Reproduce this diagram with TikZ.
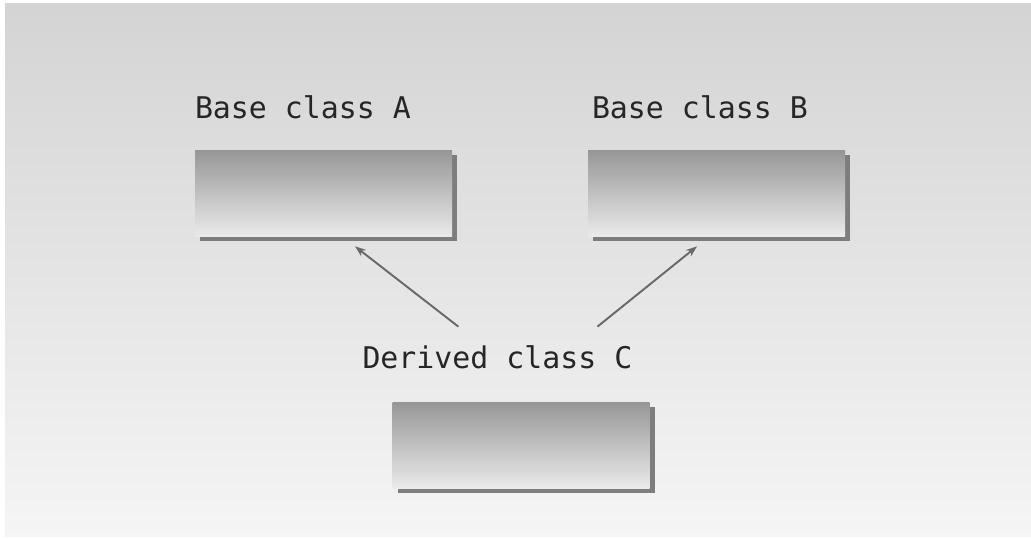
\documentclass[tikz,border=0pt]{standalone}
\usepackage{fontspec}
\setmonofont{DejaVu Sans Mono}
\usetikzlibrary{arrows.meta,positioning,shadows}
\definecolor{boxtop}{RGB}{150,150,150}
\definecolor{boxbottom}{RGB}{234,234,234}
\definecolor{edgegray}{RGB}{125,125,125}
\definecolor{linegray}{RGB}{105,105,105}

\tikzset{
    classbox/.style={draw=none, top color=boxtop, bottom color=boxbottom, minimum width=5.14cm, minimum height=1.72cm,
        drop shadow={shadow xshift=0.1cm, shadow yshift=-0.1cm, fill=edgegray, opacity=1}},
    classlbl/.style={inner sep=0pt, font=\ttfamily\fontsize{17}{20}\selectfont, text=black!85},
    inherit/.style={-{Stealth[length=2.2mm,width=1.6mm]}, draw=linegray, line width=1.1pt}
}

\begin{document}
\begin{tikzpicture}
        % background
        \useasboundingbox (0,0) rectangle (20.62,10.76);
        \shade[top color=black!17, bottom color=black!4] (0.1,0.04) rectangle (20.62,10.68);

        \node[classbox] (baseA) at (6.47,6.9) {};
        \node[classbox] (baseB) at (14.33,6.9) {};
        \node[classbox] (derivedC) at (10.42,1.86) {};

        \node[classlbl, above right=0.6cm and 0cm of baseA.north west] (lblA) {Base class A};
        \node[classlbl, above right=0.6cm and 0.08cm of baseB.north west] (lblB) {Base class B};
        \node[classlbl, above right=0.64cm and -0.6cm of derivedC.north west] (lblC) {Derived class C};

        \coordinate (tailA) at ([shift={(-0.78,0.38)}]lblC.north);
        \coordinate (tailB) at ([shift={(2.0,0.38)}]lblC.north);
        \coordinate (headA) at ([shift={(0.63,-0.2)}]baseA.south);
        \coordinate (headB) at ([shift={(-0.39,-0.2)}]baseB.south);

        \draw[inherit] (tailA) -- (headA);
        \draw[inherit] (tailB) -- (headB);
    \end{tikzpicture}
\end{document}
